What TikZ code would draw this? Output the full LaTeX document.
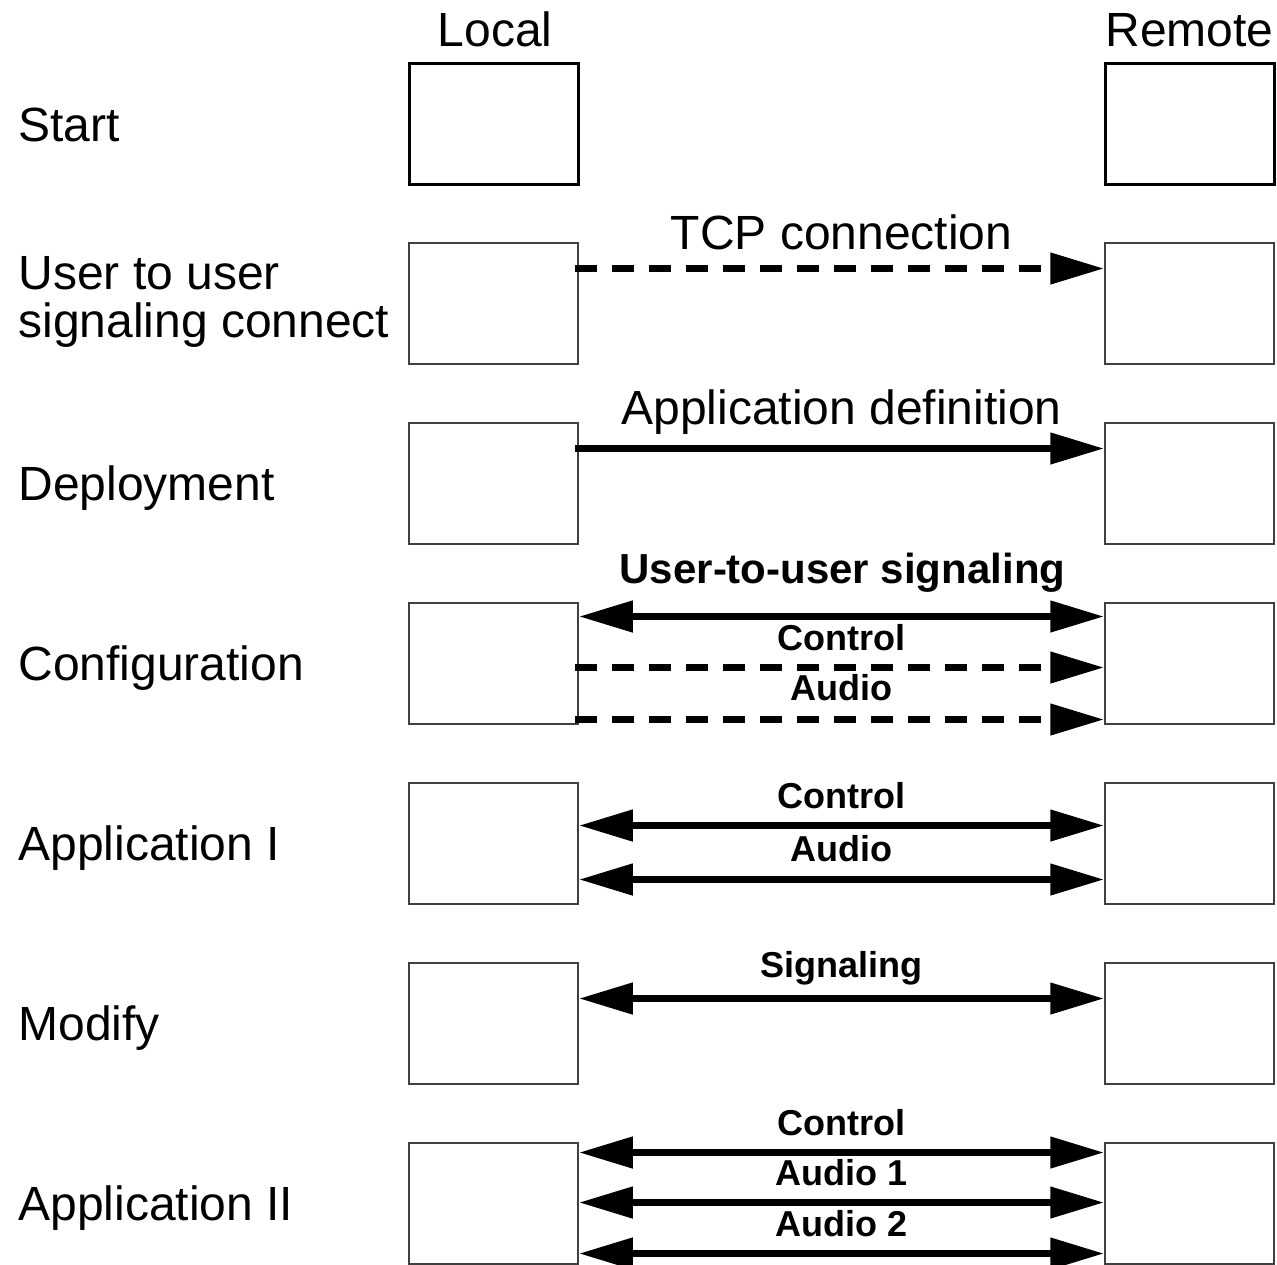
\documentclass[tikz,border=0pt]{standalone}
\usepackage{fontspec}
\setmainfont{Liberation Sans}
\usetikzlibrary{arrows.meta,calc}
\begin{document}
\begin{tikzpicture}[x=0.5pt,y=-0.5pt,
  box/.style={draw=black!75, line width=0.75pt, minimum width=84.5pt,
    minimum height=60.5pt, inner sep=0pt},
  startbox/.style={box, draw=black, line width=1.5pt},
  big/.style={font=\fontsize{24}{24}\selectfont, inner sep=0pt},
  head/.style={font=\bfseries\fontsize{21}{21}\selectfont, inner sep=0pt, anchor=base},
  tag/.style={font=\bfseries\fontsize{18}{18}\selectfont, inner sep=0pt, anchor=base},
  tip/.tip={Triangle[length=27pt,width=15pt]},
  flow/.style={line width=3.8pt, -tip},
  both/.style={line width=3.8pt, tip-tip},
  dashflow/.style={flow, dash pattern=on 11pt off 7.5pt},
]
\useasboundingbox (0,0) rectangle (1277,1264);

% column headings
\node[big, anchor=base] (hl) at (495,46) {Local};
\node[big, anchor=base] (hr) at (1189.5,46) {Remote};

% endpoint boxes, one pair per phase
\node[startbox] (L0) at (493.5,123.5) {};
\node[startbox] (R0) at (1189.5,123.5) {};
\foreach \i in {1,...,6}{
  \node[box] (L\i) at (493.5,123.5+180*\i) {};
  \node[box] (R\i) at (1189.5,123.5+180*\i) {};
}

% phase names
\node[big, anchor=base west] (p0) at (18,141) {Start};
\node[big, anchor=west, align=left] (p1) at (18,302) {User to user\\signaling connect};
\node[big, anchor=base west] (p2) at (18,500) {Deployment};
\node[big, anchor=base west] (p3) at (18,680) {Configuration};
\node[big, anchor=base west] (p4) at (18,860) {Application I};
\node[big, anchor=base west] (p5) at (18,1040) {Modify};
\node[big, anchor=base west] (p6) at (18,1220) {Application II};

% signaling connect
\draw[dashflow] ($(L1.east)+(-4,-35)$) -- ($(R1.west)+(0,-35)$);
\node[big, anchor=base] (t1) at (841.5,249) {TCP connection};

% deployment
\draw[flow] ($(L2.east)+(-4,-35)$) -- ($(R2.west)+(0,-35)$);
\node[big, anchor=base] (t2) at (841.5,424) {Application definition};

% configuration
\draw[both] ($(L3.east)+(0,-47)$) -- ($(R3.west)+(0,-47)$);
\node[head] (t3a) at (842.5,583) {User-to-user signaling};
\draw[dashflow] ($(L3.east)+(-4,4)$) -- ($(R3.west)+(0,4)$);
\node[tag] (t3b) at (841.5,650) {Control};
\draw[dashflow] ($(L3.east)+(-4,56)$) -- ($(R3.west)+(0,56)$);
\node[tag] (t3c) at (841.5,700) {Audio};

% application I
\draw[both] ($(L4.east)+(0,-18)$) -- ($(R4.west)+(0,-18)$);
\node[tag] (t4a) at (841.5,808) {Control};
\draw[both] ($(L4.east)+(0,36)$) -- ($(R4.west)+(0,36)$);
\node[tag] (t4b) at (841.5,861) {Audio};

% modify
\draw[both] ($(L5.east)+(0,-25)$) -- ($(R5.west)+(0,-25)$);
\node[tag] (t5) at (841.5,977) {Signaling};

% application II
\draw[both] ($(L6.east)+(0,-51)$) -- ($(R6.west)+(0,-51)$);
\node[tag] (t6a) at (841.5,1135) {Control};
\draw[both] ($(L6.east)+(0,-1)$) -- ($(R6.west)+(0,-1)$);
\node[tag] (t6b) at (841.5,1185) {Audio 1};
\draw[both] ($(L6.east)+(0,50)$) -- ($(R6.west)+(0,50)$);
\node[tag] (t6c) at (841.5,1236) {Audio 2};
\end{tikzpicture}
\end{document}
